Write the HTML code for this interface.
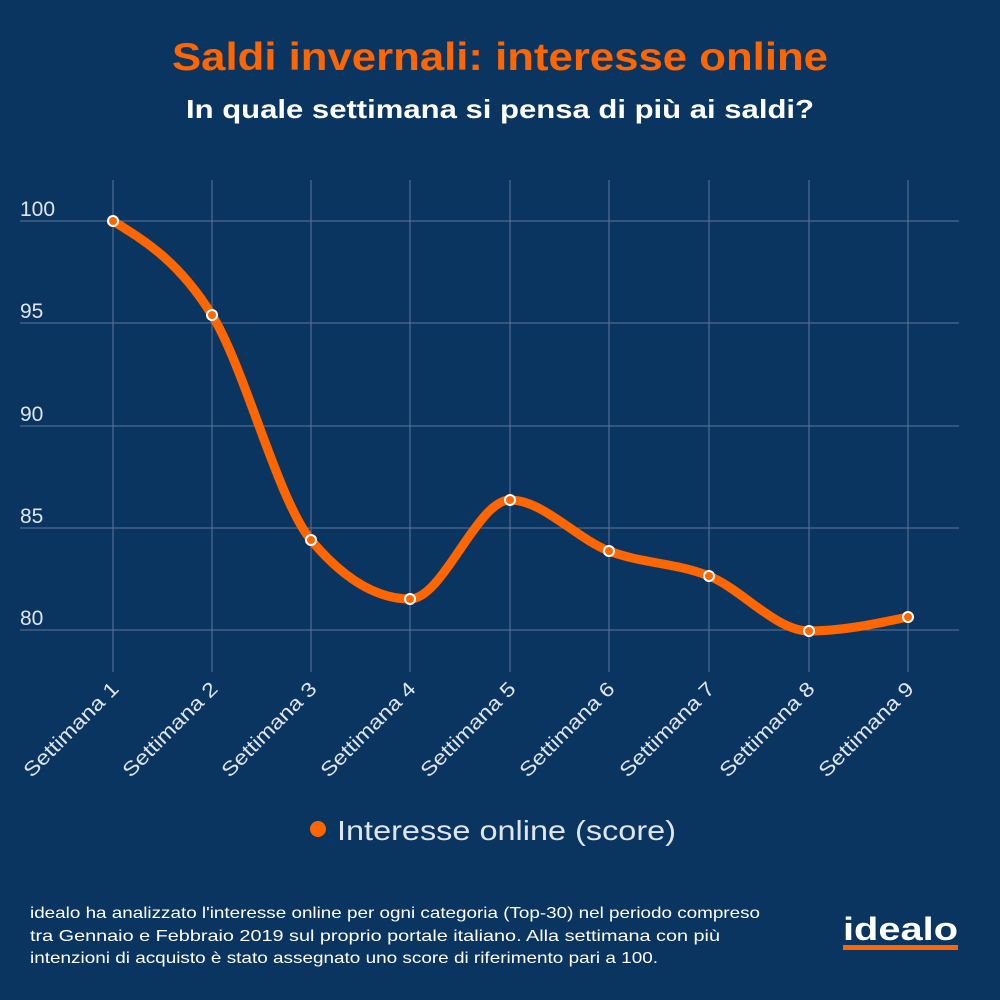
<!DOCTYPE html>
<html><head><meta charset="utf-8"><style>
html,body{margin:0;padding:0;background:#0b3561;}
svg{display:block;}
text{font-family:"Liberation Sans",sans-serif;}
</style></head><body>
<svg width="1000" height="1000" viewBox="0 0 1000 1000" xmlns="http://www.w3.org/2000/svg">
<rect width="1000" height="1000" fill="#0b3561"/>
<text x="500" y="70" text-anchor="middle" font-size="39" font-weight="bold" fill="#ff6600" textLength="656" lengthAdjust="spacingAndGlyphs">Saldi invernali: interesse online</text>
<text x="500" y="118" text-anchor="middle" font-size="26" font-weight="bold" fill="#ffffff" textLength="628" lengthAdjust="spacingAndGlyphs">In quale settimana si pensa di più ai saldi?</text>
<g stroke="#5c7796" stroke-width="1">
<line x1="20" y1="221" x2="959" y2="221"/>
<line x1="20" y1="323" x2="959" y2="323"/>
<line x1="20" y1="426" x2="959" y2="426"/>
<line x1="20" y1="528" x2="959" y2="528"/>
<line x1="20" y1="630" x2="959" y2="630"/>
<line x1="113" y1="180" x2="113" y2="672"/>
<line x1="212" y1="180" x2="212" y2="672"/>
<line x1="311" y1="180" x2="311" y2="672"/>
<line x1="410" y1="180" x2="410" y2="672"/>
<line x1="510" y1="180" x2="510" y2="672"/>
<line x1="609" y1="180" x2="609" y2="672"/>
<line x1="709" y1="180" x2="709" y2="672"/>
<line x1="809" y1="180" x2="809" y2="672"/>
<line x1="908" y1="180" x2="908" y2="672"/>
</g>
<g font-size="21" fill="#dfe5ec">
<text x="20" y="216">100</text>
<text x="20" y="318">95</text>
<text x="20" y="421">90</text>
<text x="20" y="523">85</text>
<text x="20" y="625">80</text>
</g>
<g font-size="20" fill="#dfe5ec" text-anchor="end">
<text transform="translate(120,690) rotate(-45)" textLength="125" lengthAdjust="spacingAndGlyphs">Settimana 1</text>
<text transform="translate(219,690) rotate(-45)" textLength="125" lengthAdjust="spacingAndGlyphs">Settimana 2</text>
<text transform="translate(318,690) rotate(-45)" textLength="125" lengthAdjust="spacingAndGlyphs">Settimana 3</text>
<text transform="translate(417,690) rotate(-45)" textLength="125" lengthAdjust="spacingAndGlyphs">Settimana 4</text>
<text transform="translate(517,690) rotate(-45)" textLength="125" lengthAdjust="spacingAndGlyphs">Settimana 5</text>
<text transform="translate(616,690) rotate(-45)" textLength="125" lengthAdjust="spacingAndGlyphs">Settimana 6</text>
<text transform="translate(716,690) rotate(-45)" textLength="125" lengthAdjust="spacingAndGlyphs">Settimana 7</text>
<text transform="translate(816,690) rotate(-45)" textLength="125" lengthAdjust="spacingAndGlyphs">Settimana 8</text>
<text transform="translate(915,690) rotate(-45)" textLength="125" lengthAdjust="spacingAndGlyphs">Settimana 9</text>
</g>
<path d="M113,221 C146,241.4 179,261.8 212,315 C245,368.2 278,500.6 311,540 C344,579.4 377,599 410,599 C443,599 477,500 510,500 C543,500 576,538.4 609,551 C642,563.6 676,562.7 709,576 C742,589.3 776,631 809,631 C842,631 875,624 908,617" fill="none" stroke="#ff6600" stroke-width="9" stroke-linecap="round"/>
<g fill="#ff6600" stroke="#ffffff" stroke-width="2">
<circle cx="113" cy="221" r="5"/><circle cx="212" cy="315" r="5"/><circle cx="311" cy="540" r="5"/>
<circle cx="410" cy="599" r="5"/><circle cx="510" cy="500" r="5"/><circle cx="609" cy="551" r="5"/>
<circle cx="709" cy="576" r="5"/><circle cx="809" cy="631" r="5"/><circle cx="908" cy="617" r="5"/>
</g>
<circle cx="318" cy="829" r="8" fill="#ff6600"/>
<text x="337" y="840" font-size="28" fill="#dfe5ec" textLength="339" lengthAdjust="spacingAndGlyphs">Interesse online (score)</text>
<g font-size="16" fill="#ffffff">
<text x="30" y="918" textLength="730" lengthAdjust="spacingAndGlyphs">idealo ha analizzato l'interesse online per ogni categoria (Top-30) nel periodo compreso</text>
<text x="30" y="941" textLength="690" lengthAdjust="spacingAndGlyphs">tra Gennaio e Febbraio 2019 sul proprio portale italiano. Alla settimana con più</text>
<text x="30" y="963" textLength="628" lengthAdjust="spacingAndGlyphs">intenzioni di acquisto è stato assegnato uno score di riferimento pari a 100.</text>
</g>
<text x="843" y="940" font-size="32" font-weight="bold" fill="#ffffff" textLength="115" lengthAdjust="spacingAndGlyphs">idealo</text>
<rect x="843" y="945" width="115" height="5" fill="#ff6600"/>
</svg>
</body></html>
